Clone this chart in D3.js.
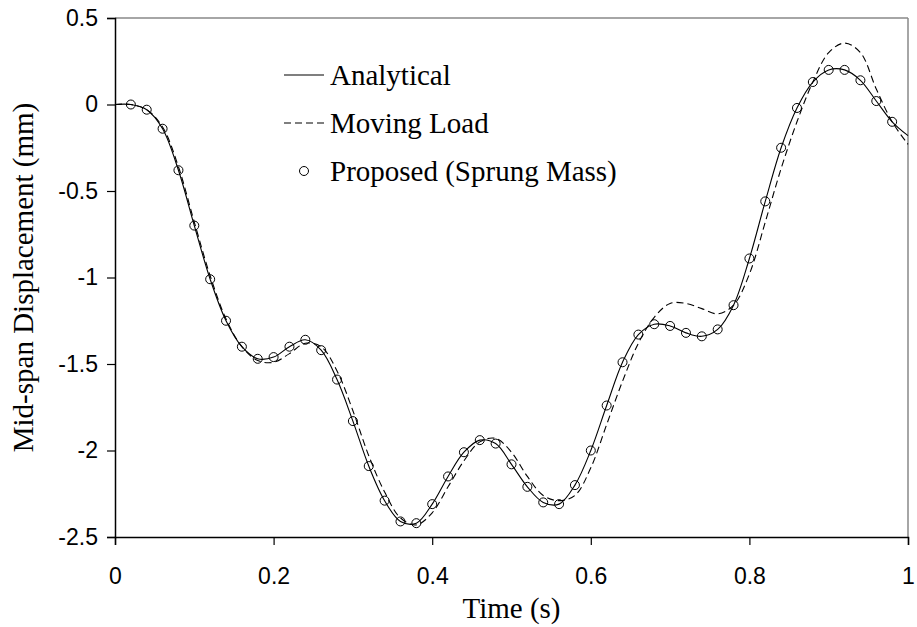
<!DOCTYPE html>
<html>
<head>
<meta charset="utf-8">
<script src="https://cdn.jsdelivr.net/npm/d3@7"></script>
<style>
  body { margin: 0; background: #fff; }
  .tick text { font-family: "Liberation Sans", Arial, sans-serif; font-size: 23px; fill: #000; }
</style>
</head>
<body>
<script>
// time axis for the two curves (s)
const lineTimes = [0, 0.02, 0.04, 0.06, 0.08, 0.10, 0.12, 0.14, 0.16, 0.18, 0.20,
  0.22, 0.24, 0.26, 0.28, 0.30, 0.32, 0.34, 0.36, 0.38, 0.40,
  0.42, 0.44, 0.46, 0.48, 0.50, 0.52, 0.54, 0.56, 0.58, 0.60,
  0.62, 0.64, 0.66, 0.68, 0.70, 0.72, 0.74, 0.76, 0.78, 0.80,
  0.82, 0.84, 0.86, 0.88, 0.90, 0.92, 0.94, 0.96, 0.98, 1.00];

const analytical = [0, 0, -0.03, -0.14, -0.38, -0.70, -1.01, -1.25, -1.40, -1.47, -1.46,
  -1.40, -1.36, -1.42, -1.59, -1.83, -2.09, -2.29, -2.41, -2.42, -2.31,
  -2.15, -2.01, -1.94, -1.96, -2.08, -2.21, -2.30, -2.31, -2.20, -2.00,
  -1.74, -1.49, -1.33, -1.27, -1.28, -1.32, -1.34, -1.30, -1.16, -0.89,
  -0.56, -0.25, -0.02, 0.13, 0.20, 0.20, 0.14, 0.02, -0.10, -0.18];

const movingLoad = [0, 0, -0.03, -0.13, -0.36, -0.68, -0.99, -1.24, -1.40, -1.48, -1.49,
  -1.44, -1.38, -1.40, -1.54, -1.77, -2.03, -2.24, -2.39, -2.43, -2.36,
  -2.21, -2.06, -1.95, -1.93, -2.01, -2.15, -2.26, -2.29, -2.26, -2.10,
  -1.85, -1.60, -1.38, -1.23, -1.15, -1.15, -1.18, -1.21, -1.16, -0.98,
  -0.68, -0.37, -0.10, 0.13, 0.30, 0.355, 0.30, 0.09, -0.10, -0.23];

// proposed sprung mass model, markers every 0.02 s
const markerTimes = [0.02, 0.04, 0.06, 0.08, 0.10, 0.12, 0.14, 0.16, 0.18, 0.20,
  0.22, 0.24, 0.26, 0.28, 0.30, 0.32, 0.34, 0.36, 0.38, 0.40,
  0.42, 0.44, 0.46, 0.48, 0.50, 0.52, 0.54, 0.56, 0.58, 0.60,
  0.62, 0.64, 0.66, 0.68, 0.70, 0.72, 0.74, 0.76, 0.78, 0.80,
  0.82, 0.84, 0.86, 0.88, 0.90, 0.92, 0.94, 0.96, 0.98];
const proposed = [0, -0.03, -0.14, -0.38, -0.70, -1.01, -1.25, -1.40, -1.47, -1.46,
  -1.40, -1.36, -1.42, -1.59, -1.83, -2.09, -2.29, -2.41, -2.42, -2.31,
  -2.15, -2.01, -1.94, -1.96, -2.08, -2.21, -2.30, -2.31, -2.20, -2.00,
  -1.74, -1.49, -1.33, -1.27, -1.28, -1.32, -1.34, -1.30, -1.16, -0.89,
  -0.56, -0.25, -0.02, 0.13, 0.20, 0.20, 0.14, 0.02, -0.10];

const xTicks = [0, 0.2, 0.4, 0.6, 0.8, 1];
const yTicks = [0.5, 0, -0.5, -1, -1.5, -2, -2.5];
const legendNames = ["Analytical", "Moving Load", "Proposed (Sprung Mass)"];

const W = 917, H = 627;
const margin = {top: 18, right: 9, bottom: 90, left: 115};
const width = W - margin.left - margin.right;
const height = H - margin.top - margin.bottom;
const serif = "'Liberation Serif', 'Times New Roman', serif";

const svg = d3.select("body").append("svg")
  .attr("width", W)
  .attr("height", H);

const g = svg.append("g")
  .attr("transform", `translate(${margin.left},${margin.top})`);

const x = d3.scaleLinear().domain([0, 1]).range([0, width]);
const y = d3.scaleLinear().domain([-2.5, 0.5]).range([height, 0]);

// frame: top and right in grey
g.append("line")
  .attr("x1", 0).attr("x2", width).attr("y1", 0).attr("y2", 0)
  .attr("stroke", "#888").attr("stroke-width", 1.5);
g.append("line")
  .attr("x1", width).attr("x2", width).attr("y1", 0).attr("y2", height)
  .attr("stroke", "#888").attr("stroke-width", 1.5);

const fmt = d => (d === 0 || d === 1) ? d3.format("d")(d) : String(d);

const xAxis = g.append("g")
  .attr("transform", `translate(0,${height})`)
  .call(d3.axisBottom(x).tickValues(xTicks).tickSize(8).tickPadding(23).tickFormat(fmt));
const yAxis = g.append("g")
  .call(d3.axisLeft(y).tickValues(yTicks).tickSize(8).tickPadding(9).tickFormat(fmt));

[xAxis, yAxis].forEach(a => {
  a.select(".domain").attr("stroke", "#000").attr("stroke-width", 1.5);
  a.selectAll(".tick line").attr("stroke", "#000").attr("stroke-width", 1.2);
});

const pts = (ts, vs) => ts.map((t, i) => [t, vs[i]]);

const line = d3.line()
  .x(d => x(d[0]))
  .y(d => y(d[1]))
  .curve(d3.curveCatmullRom.alpha(0.5));

g.append("path")
  .datum(pts(lineTimes, movingLoad))
  .attr("fill", "none")
  .attr("stroke", "#000")
  .attr("stroke-width", 1.1)
  .attr("stroke-dasharray", "7,4")
  .attr("d", line);

g.append("path")
  .datum(pts(lineTimes, analytical))
  .attr("fill", "none")
  .attr("stroke", "#000")
  .attr("stroke-width", 1.1)
  .attr("d", line);

g.selectAll("circle.marker")
  .data(pts(markerTimes, proposed))
  .enter().append("circle")
  .attr("class", "marker")
  .attr("cx", d => x(d[0]))
  .attr("cy", d => y(d[1]))
  .attr("r", 4.5)
  .attr("fill", "none")
  .attr("stroke", "#000")
  .attr("stroke-width", 1);

// legend
const legend = g.selectAll("g.legend")
  .data(legendNames)
  .enter().append("g")
  .attr("class", "legend")
  .attr("transform", (d, i) => `translate(${284 - margin.left},${75 - margin.top + i * 48})`);

legend.filter((d, i) => i < 2).append("line")
  .attr("x1", 0).attr("x2", 40).attr("y1", 0).attr("y2", 0)
  .attr("stroke", "#000")
  .attr("stroke-width", 1.1)
  .attr("stroke-dasharray", (d, i) => i === 1 ? "7,4" : null);

legend.filter((d, i) => i === 2).append("circle")
  .attr("cx", 20).attr("cy", 0).attr("r", 4.5)
  .attr("fill", "none").attr("stroke", "#000");

legend.append("text")
  .attr("x", 46)
  .attr("dy", "0.33em")
  .style("font-family", serif)
  .style("font-size", "29px")
  .text(d => d);

// axis titles
svg.append("text")
  .attr("x", margin.left + width / 2)
  .attr("y", 618)
  .attr("text-anchor", "middle")
  .style("font-family", serif)
  .style("font-size", "29px")
  .text("Time (s)");

svg.append("text")
  .attr("transform", `translate(33,${margin.top + height / 2}) rotate(-90)`)
  .attr("text-anchor", "middle")
  .style("font-family", serif)
  .style("font-size", "29px")
  .text("Mid-span Displacement (mm)");
</script>
</body>
</html>
